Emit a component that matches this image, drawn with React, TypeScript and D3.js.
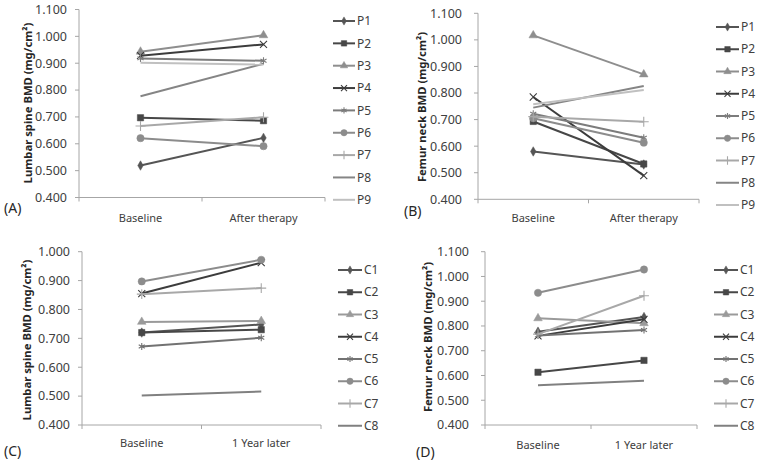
import React from "react";
import * as d3 from "d3";

// ---------- data ----------
const catsTherapy = ["Baseline", "After therapy"];
const catsYear = ["Baseline", "1 Year later"];

const pNames = ["P1", "P2", "P3", "P4", "P5", "P6", "P7", "P8", "P9"];
const cNames = ["C1", "C2", "C3", "C4", "C5", "C6", "C7", "C8"];

const lumbarP = [
  [0.519, 0.622],
  [0.697, 0.686],
  [0.943, 1.004],
  [0.928, 0.970],
  [0.918, 0.909],
  [0.621, 0.591],
  [0.666, 0.699],
  [0.777, 0.898],
  [0.902, 0.895],
];
const femurP = [
  [0.580, 0.531],
  [0.693, 0.533],
  [1.017, 0.870],
  [0.785, 0.489],
  [0.722, 0.632],
  [0.705, 0.613],
  [0.711, 0.692],
  [0.745, 0.826],
  [0.758, 0.811],
];
const lumbarC = [
  [0.720, 0.748],
  [0.720, 0.730],
  [0.757, 0.760],
  [0.855, 0.962],
  [0.672, 0.702],
  [0.897, 0.972],
  [0.853, 0.874],
  [0.502, 0.516],
];
const femurC = [
  [0.777, 0.836],
  [0.613, 0.661],
  [0.831, 0.811],
  [0.760, 0.827],
  [0.762, 0.784],
  [0.934, 1.028],
  [0.767, 0.922],
  [0.561, 0.579],
];

const ticks11 = [0.4, 0.5, 0.6, 0.7, 0.8, 0.9, 1.0, 1.1];
const ticks10 = [0.4, 0.5, 0.6, 0.7, 0.8, 0.9, 1.0];

// ---------- styles ----------
const pColors = ["#555555", "#474747", "#8e8e8e", "#3c3c3c", "#7c7c7c", "#8c8c8c", "#a8a8a8", "#858585", "#c0c0c0"];
const pMarkers = ["diamond", "square", "triangle", "times", "asterisk", "circle", "plus", "none", "none"];
const cColors = ["#555555", "#474747", "#9a9a9a", "#3c3c3c", "#727272", "#8c8c8c", "#a8a8a8", "#808080"];
const cMarkers = ["diamond", "square", "triangle", "times", "asterisk", "circle", "plus", "none"];

const FONT = "'Noto Sans', 'Open Sans', sans-serif";

function Marker({ kind, x, y, color, scale = 1 }: { kind: string; x: number; y: number; color: string; scale?: number }) {
  if (kind === "none") return null;
  const map: Record<string, [any, number, boolean]> = {
    diamond: [d3.symbolDiamond, 26, true],
    square: [d3.symbolSquare, 40, true],
    triangle: [d3.symbolTriangle, 32, true],
    circle: [d3.symbolCircle, 42, true],
    times: [d3.symbolTimes, 34, false],
    asterisk: [d3.symbolAsterisk, 34, false],
    plus: [d3.symbolPlus, 34, false],
  };
  const [type, size, filled] = map[kind];
  const path = d3.symbol().type(type).size(size * scale)() as string;
  return (
    <path
      d={path}
      transform={`translate(${x},${y})`}
      fill={filled ? color : "none"}
      stroke={color}
      strokeWidth={filled ? 0.5 : 1.1}
    />
  );
}

type PanelProps = {
  axisX: number;
  axisEnd: number;
  yTop: number;
  yBottom: number;
  ticks: number[];
  tickGap: number;
  categories: string[];
  names: string[];
  values: number[][];
  colors: string[];
  markers: string[];
  title: string;
  titleX: number;
  titleY: number;
  catY: number;
  legX0: number;
  legX1: number;
  legY0: number;
  legStep: number;
  tag: string;
  tagX: number;
  tagY: number;
};

function Panel(p: PanelProps) {
  const y = d3
    .scaleLinear()
    .domain([d3.min(p.ticks)!, d3.max(p.ticks)!])
    .range([p.yBottom, p.yTop]);
  const x = d3.scaleBand().domain(p.categories).range([p.axisX, p.axisEnd]).padding(0);
  const cx = (c: string) => (x(c) as number) + x.bandwidth() / 2;
  const line = d3
    .line<number>()
    .x((_, i) => cx(p.categories[i]))
    .y((v) => y(v));

  return (
    <g>
      {/* y axis */}
      <line x1={p.axisX} x2={p.axisX} y1={p.yTop} y2={p.yBottom} stroke="#a6a6a6" strokeWidth={1} />
      {p.ticks.map((t) => (
        <g key={t}>
          <line x1={p.axisX - 4} x2={p.axisX} y1={y(t)} y2={y(t)} stroke="#a6a6a6" strokeWidth={1} />
          <text
            x={p.axisX - p.tickGap}
            y={y(t)}
            dy="0.35em"
            textAnchor="end"
            fontFamily={FONT}
            fontSize={12.5}
            fill="#404040"
          >
            {d3.format(".3f")(t)}
          </text>
        </g>
      ))}
      {/* x axis */}
      <line x1={p.axisX} x2={p.axisEnd} y1={p.yBottom} y2={p.yBottom} stroke="#a6a6a6" strokeWidth={1} />
      {[p.axisX, ...p.categories.map((c) => (x(c) as number) + x.bandwidth())].map((tx, i) => (
        <line key={i} x1={tx} x2={tx} y1={p.yBottom} y2={p.yBottom + 4} stroke="#a6a6a6" strokeWidth={1} />
      ))}
      {p.categories.map((c) => (
        <text key={c} x={cx(c)} y={p.catY} dy="0.35em" textAnchor="middle" fontFamily={FONT} fontSize={11} fill="#404040">
          {c}
        </text>
      ))}
      {/* title */}
      <text
        transform={`translate(${p.titleX},${p.titleY}) rotate(-90)`}
        textAnchor="middle"
        dy="0.35em"
        fontFamily={FONT}
        fontSize={11.3}
        fontWeight="bold"
        fill="#262626"
      >
        {p.title}
      </text>
      {/* tag */}
      <text x={p.tagX} y={p.tagY} dy="0.35em" fontFamily={FONT} fontSize={14} fill="#262626">
        {p.tag}
      </text>
      {/* series */}
      {p.values.map((vals, si) => (
        <g key={si}>
          <path d={line(vals) as string} fill="none" stroke={p.colors[si]} strokeWidth={2} />
          {vals.map((v, i) => (
            <Marker key={i} kind={p.markers[si]} x={cx(p.categories[i])} y={y(v)} color={p.colors[si]} />
          ))}
        </g>
      ))}
      {/* legend */}
      {p.names.map((n, i) => {
        const ly = p.legY0 + i * p.legStep;
        return (
          <g key={n}>
            <line x1={p.legX0} x2={p.legX1} y1={ly} y2={ly} stroke={p.colors[i]} strokeWidth={2} />
            <Marker kind={p.markers[i]} x={(p.legX0 + p.legX1) / 2} y={ly} color={p.colors[i]} scale={0.75} />
            <text x={p.legX1 + 2} y={ly} dy="0.35em" fontFamily={FONT} fontSize={12} fill="#404040">
              {n}
            </text>
          </g>
        );
      })}
    </g>
  );
}

export default function App() {
  return (
    <svg
      width={759}
      height={466}
      style={{ position: "absolute", left: 0, top: 0, background: "#ffffff" }}
    >
      <rect width={759} height={466} fill="#ffffff" />
      <Panel
        axisX={79}
        axisEnd={325}
        yTop={9.5}
        yBottom={197.5}
        ticks={ticks11}
        tickGap={12}
        categories={catsTherapy}
        names={pNames}
        values={lumbarP}
        colors={pColors}
        markers={pMarkers}
        title="Lumbar spine BMD (mg/cm²)"
        titleX={28}
        titleY={103}
        catY={218}
        legX0={333}
        legX1={355}
        legY0={21}
        legStep={22.35}
        tag="(A)"
        tagX={4}
        tagY={208}
      />
      <Panel
        axisX={478}
        axisEnd={699}
        yTop={13.3}
        yBottom={199.3}
        ticks={ticks11}
        tickGap={16}
        categories={catsTherapy}
        names={pNames}
        values={femurP}
        colors={pColors}
        markers={pMarkers}
        title="Femur neck BMD (mg/cm²)"
        titleX={422}
        titleY={107}
        catY={218}
        legX0={716}
        legX1={739}
        legY0={27}
        legStep={22.25}
        tag="(B)"
        tagX={404}
        tagY={211}
      />
      <Panel
        axisX={82}
        axisEnd={321}
        yTop={251.7}
        yBottom={425}
        ticks={ticks10}
        tickGap={12}
        categories={catsYear}
        names={cNames}
        values={lumbarC}
        colors={cColors}
        markers={cMarkers}
        title="Lumbar  spine BMD (mg/cm²)"
        titleX={27}
        titleY={340}
        catY={443}
        legX0={338}
        legX1={362}
        legY0={270}
        legStep={22.25}
        tag="(C)"
        tagX={4}
        tagY={451}
      />
      <Panel
        axisX={485}
        axisEnd={697}
        yTop={251.7}
        yBottom={425}
        ticks={ticks11}
        tickGap={16}
        categories={catsYear}
        names={cNames}
        values={femurC}
        colors={cColors}
        markers={cMarkers}
        title="Femur neck BMD (mg/cm²)"
        titleX={428}
        titleY={337}
        catY={445}
        legX0={714}
        legX1={738}
        legY0={270}
        legStep={22.25}
        tag="(D)"
        tagX={416}
        tagY={452}
      />
    </svg>
  );
}
